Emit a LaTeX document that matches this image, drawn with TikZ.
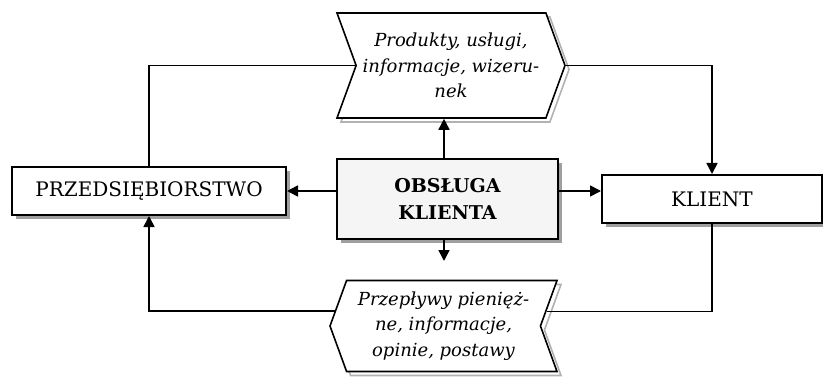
\documentclass[tikz,border=0pt]{standalone}
\usepackage{fontspec}
\setmainfont{DejaVu Serif}
\usetikzlibrary{shapes.symbols,shadows,arrows.meta}

\tikzset{
        box/.style={draw,line width=1pt,fill=white,inner sep=0pt,
                font=\fontsize{10}{12}\selectfont,
                drop shadow={shadow xshift=2pt,shadow yshift=-2pt,fill=gray!75,opacity=1}},
        flow/.style={signal,draw,line width=0.8pt,fill=white,inner sep=0pt,
                signal pointer angle=140,align=center,
                font=\itshape\fontsize{9}{12.8}\selectfont,
                copy shadow={shadow xshift=2pt,shadow yshift=-2pt,draw=gray!60}},
        link/.style={line width=0.8pt},
        arr/.style={link,-{Triangle[length=5.5pt,width=5.5pt]}}
}

\begin{document}
\begin{tikzpicture}[x=0.5pt,y=-0.5pt]
        \useasboundingbox (0,0) rectangle (823,379);

        \node[flow,signal to=east,signal from=west,minimum width=114pt,minimum height=52.5pt]
        (goods) at (451,65.5) {Produkty, usługi,\\informacje, wizeru-\\nek};
        \node[flow,signal to=west,signal from=east,minimum width=113.5pt,minimum height=45.5pt]
        (money) at (443.5,326) {Przepływy pienięż-\\ne, informacje,\\opinie, postawy};

        \node[box,minimum width=137pt,minimum height=24pt] (firm) at (149,191) {PRZEDSIĘBIORSTWO};
        \node[box,minimum width=110pt,minimum height=24pt] (client) at (712,199) {KLIENT};
        \node[box,fill=gray!8,align=center,minimum width=110.5pt,minimum height=40pt,
        font=\bfseries\fontsize{9.5}{13.3}\selectfont] (service) at (447.5,199) {OBSŁUGA\\KLIENTA};

        \coordinate (down) at (444,261);

        \draw[link] (goods.west) -| (firm.north);
        \draw[arr] (goods.east) -| (client.north);
        \draw[link] (client.south) |- (money.8);
        \draw[arr] (money.172) -| (firm.south);

        \draw[arr] (service.west |- firm.east) -- (firm.east);
        \draw[arr] (service.east |- firm.east) -- (client.west |- firm.east);
        \draw[arr] (service.north -| down) -- (goods.south -| down);
        \draw[arr] (service.south -| down) -- (down);
\end{tikzpicture}
\end{document}
